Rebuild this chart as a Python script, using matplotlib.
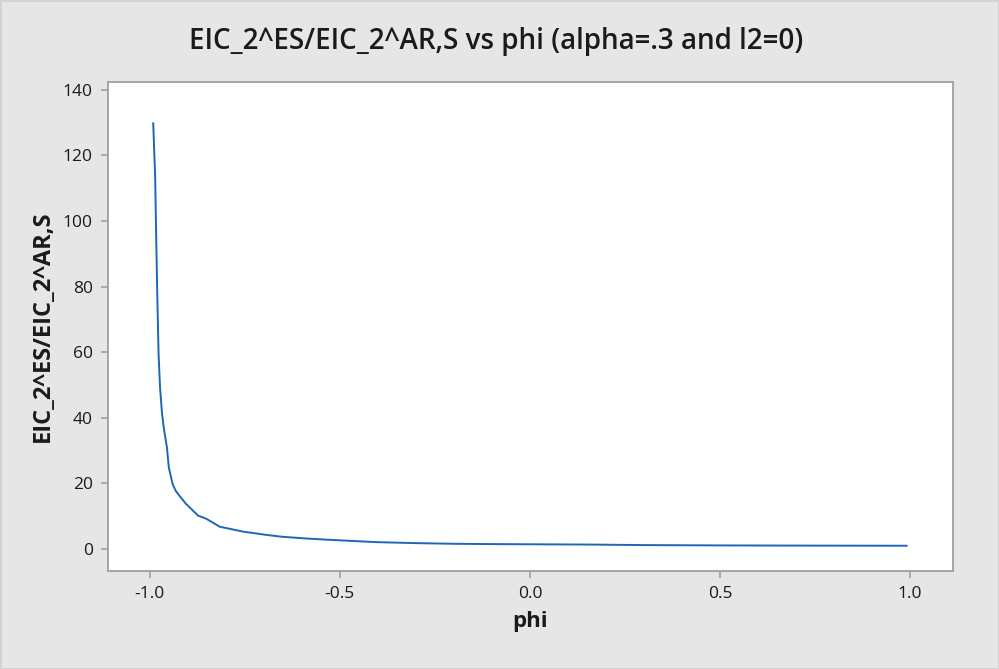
import matplotlib
matplotlib.use("Agg")
import matplotlib.pyplot as plt

# values
phi = [-0.991, -0.986, -0.981, -0.977, -0.973, -0.968, -0.964, -0.960, -0.955,
       -0.950, -0.945, -0.940, -0.932, -0.926, -0.905, -0.873, -0.851, -0.816,
       -0.754, -0.693, -0.653, -0.588, -0.518, -0.403, -0.300, -0.200, -0.100,
       0.000, 0.170, 0.300, 0.500, 0.700, 0.991]
ratio = [129.8, 113.6, 81.1, 59.5, 49.1, 41.5, 37.6, 34.5, 31.0,
         24.9, 22.3, 19.8, 17.8, 16.8, 13.8, 10.2, 9.2, 6.8,
         5.3, 4.3, 3.75, 3.2, 2.75, 2.1, 1.8, 1.6, 1.5,
         1.45, 1.35, 1.2, 1.1, 1.05, 1.0]

xticks = [-1.0, -0.5, 0.0, 0.5, 1.0]
yticks = [0, 20, 40, 60, 80, 100, 120, 140]

plt.rcParams['font.family'] = ['Open Sans', 'DejaVu Sans']

fig = plt.figure(figsize=(9.99, 6.69), dpi=100, facecolor='#e6e6e6',
                 edgecolor='#d2d2d2', linewidth=2)
ax = fig.add_axes([108/999, 98/669, 845/999, 489/669])
ax.set_facecolor('white')

ax.plot(phi, ratio, color='#1f66b6', linewidth=1.4)

ax.set_xlim(-1.11, 1.113)
ax.set_ylim(-6.7, 142.4)
ax.set_xticks(xticks)
ax.set_xticklabels([f"{t:.1f}" for t in xticks])
ax.set_yticks(yticks)

for s in ax.spines.values():
    s.set_color('#a0a0a0')
    s.set_linewidth(1.3)
ax.tick_params(direction='out', length=5, width=1.2, color='#a0a0a0',
               labelsize=12.5, labelcolor='#1a1a1a', pad=6)

ax.set_xlabel('phi', fontsize=16, fontweight='bold', color='#1a1a1a', labelpad=6)
ax.set_ylabel('EIC_2^ES/EIC_2^AR,S', fontsize=17, fontweight='bold',
              color='#1a1a1a', labelpad=6)
fig.suptitle('EIC_2^ES/EIC_2^AR,S vs phi (alpha=.3 and l2=0)', x=0.497, y=0.96,
             fontsize=20, fontweight='semibold', color='#1a1a1a')

fig.savefig('out.png', dpi=100, facecolor=fig.get_facecolor(),
            edgecolor=fig.get_edgecolor())
